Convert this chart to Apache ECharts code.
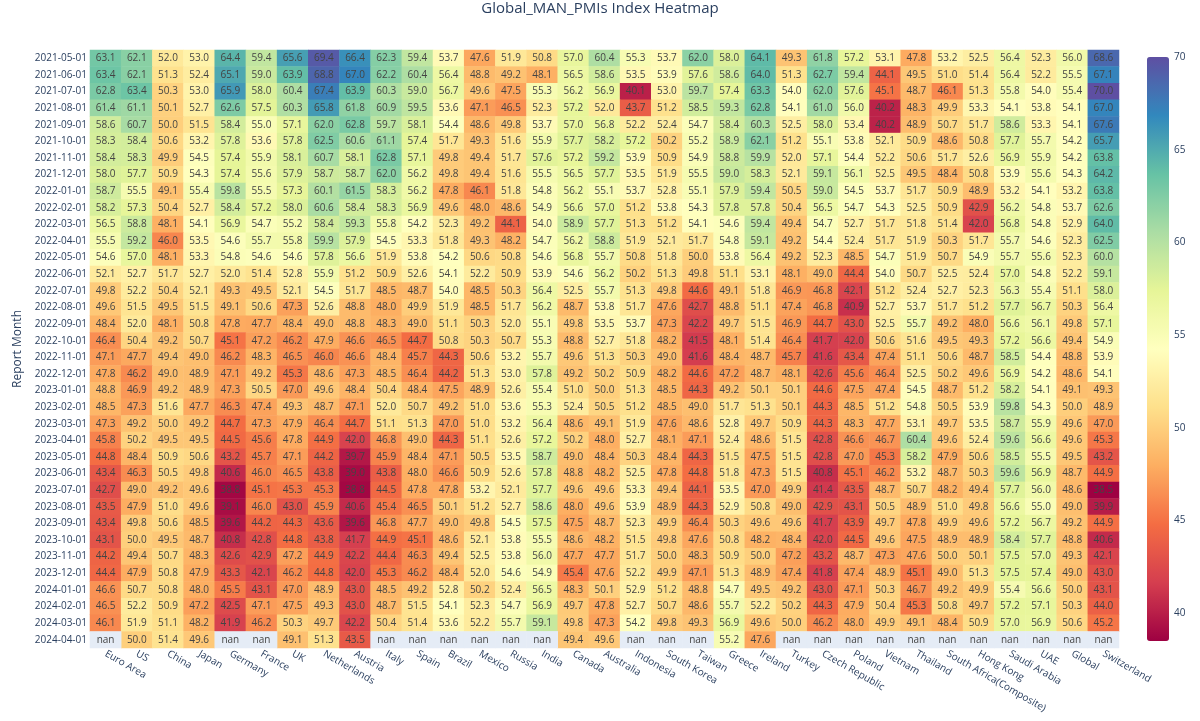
<!DOCTYPE html>
<html><head><meta charset="utf-8">
<script src="https://cdn.jsdelivr.net/npm/echarts@6/dist/echarts.min.js"></script>
<style>html,body{margin:0;padding:0;background:#fff}#chart{width:1200px;height:721px}</style>
</head><body><div id="chart"></div>
<script>
const countries = ['Euro Area','US','China','Japan','Germany','France','UK','Netherlands','Austria','Italy','Spain','Brazil','Mexico','Russia','India','Canada','Australia','Indonesia','South Korea','Taiwan','Greece','Ireland','Turkey','Czech Republic','Poland','Vietnam','Thailand','South Africa(Composite)','Hong Kong','Saudi Arabia','UAE','Global','Switzerland'];
const months = ['2021-05-01','2021-06-01','2021-07-01','2021-08-01','2021-09-01','2021-10-01','2021-11-01','2021-12-01','2022-01-01','2022-02-01','2022-03-01','2022-04-01','2022-05-01','2022-06-01','2022-07-01','2022-08-01','2022-09-01','2022-10-01','2022-11-01','2022-12-01','2023-01-01','2023-02-01','2023-03-01','2023-04-01','2023-05-01','2023-06-01','2023-07-01','2023-08-01','2023-09-01','2023-10-01','2023-11-01','2023-12-01','2024-01-01','2024-02-01','2024-03-01','2024-04-01'];

const r2021_05 = [63.1,62.1,52.0,53.0,64.4,59.4,65.6,69.4,66.4,62.3,59.4,53.7,47.6,51.9,50.8,57.0,60.4,55.3,53.7,62.0,58.0,64.1,49.3,61.8,57.2,53.1,47.8,53.2,52.5,56.4,52.3,56.0,68.6];
const r2021_06 = [63.4,62.1,51.3,52.4,65.1,59.0,63.9,68.8,67.0,62.2,60.4,56.4,48.8,49.2,48.1,56.5,58.6,53.5,53.9,57.6,58.6,64.0,51.3,62.7,59.4,44.1,49.5,51.0,51.4,56.4,52.2,55.5,67.1];
const r2021_07 = [62.8,63.4,50.3,53.0,65.9,58.0,60.4,67.4,63.9,60.3,59.0,56.7,49.6,47.5,55.3,56.2,56.9,40.1,53.0,59.7,57.4,63.3,54.0,62.0,57.6,45.1,48.7,46.1,51.3,55.8,54.0,55.4,70.0];
const r2021_08 = [61.4,61.1,50.1,52.7,62.6,57.5,60.3,65.8,61.8,60.9,59.5,53.6,47.1,46.5,52.3,57.2,52.0,43.7,51.2,58.5,59.3,62.8,54.1,61.0,56.0,40.2,48.3,49.9,53.3,54.1,53.8,54.1,67.0];
const r2021_09 = [58.6,60.7,50.0,51.5,58.4,55.0,57.1,62.0,62.8,59.7,58.1,54.4,48.6,49.8,53.7,57.0,56.8,52.2,52.4,54.7,58.4,60.3,52.5,58.0,53.4,40.2,48.9,50.7,51.7,58.6,53.3,54.1,67.6];
const r2021_10 = [58.3,58.4,50.6,53.2,57.8,53.6,57.8,62.5,60.6,61.1,57.4,51.7,49.3,51.6,55.9,57.7,58.2,57.2,50.2,55.2,58.9,62.1,51.2,55.1,53.8,52.1,50.9,48.6,50.8,57.7,55.7,54.2,65.7];
const r2021_11 = [58.4,58.3,49.9,54.5,57.4,55.9,58.1,60.7,58.1,62.8,57.1,49.8,49.4,51.7,57.6,57.2,59.2,53.9,50.9,54.9,58.8,59.9,52.0,57.1,54.4,52.2,50.6,51.7,52.6,56.9,55.9,54.2,63.8];
const r2021_12 = [58.0,57.7,50.9,54.3,57.4,55.6,57.9,58.7,58.7,62.0,56.2,49.8,49.4,51.6,55.5,56.5,57.7,53.5,51.9,55.5,59.0,58.3,52.1,59.1,56.1,52.5,49.5,48.4,50.8,53.9,55.6,54.3,64.2];
const r2022_01 = [58.7,55.5,49.1,55.4,59.8,55.5,57.3,60.1,61.5,58.3,56.2,47.8,46.1,51.8,54.8,56.2,55.1,53.7,52.8,55.1,57.9,59.4,50.5,59.0,54.5,53.7,51.7,50.9,48.9,53.2,54.1,53.2,63.8];
const r2022_02 = [58.2,57.3,50.4,52.7,58.4,57.2,58.0,60.6,58.4,58.3,56.9,49.6,48.0,48.6,54.9,56.6,57.0,51.2,53.8,54.3,57.8,57.8,50.4,56.5,54.7,54.3,52.5,50.9,42.9,56.2,54.8,53.7,62.6];
const r2022_03 = [56.5,58.8,48.1,54.1,56.9,54.7,55.2,58.4,59.3,55.8,54.2,52.3,49.2,44.1,54.0,58.9,57.7,51.3,51.2,54.1,54.6,59.4,49.4,54.7,52.7,51.7,51.8,51.4,42.0,56.8,54.8,52.9,64.0];
const r2022_04 = [55.5,59.2,46.0,53.5,54.6,55.7,55.8,59.9,57.9,54.5,53.3,51.8,49.3,48.2,54.7,56.2,58.8,51.9,52.1,51.7,54.8,59.1,49.2,54.4,52.4,51.7,51.9,50.3,51.7,55.7,54.6,52.3,62.5];
const r2022_05 = [54.6,57.0,48.1,53.3,54.8,54.6,54.6,57.8,56.6,51.9,53.8,54.2,50.6,50.8,54.6,56.8,55.7,50.8,51.8,50.0,53.8,56.4,49.2,52.3,48.5,54.7,51.9,50.7,54.9,55.7,55.6,52.3,60.0];
const r2022_06 = [52.1,52.7,51.7,52.7,52.0,51.4,52.8,55.9,51.2,50.9,52.6,54.1,52.2,50.9,53.9,54.6,56.2,50.2,51.3,49.8,51.1,53.1,48.1,49.0,44.4,54.0,50.7,52.5,52.4,57.0,54.8,52.2,59.1];
const r2022_07 = [49.8,52.2,50.4,52.1,49.3,49.5,52.1,54.5,51.7,48.5,48.7,54.0,48.5,50.3,56.4,52.5,55.7,51.3,49.8,44.6,49.1,51.8,46.9,46.8,42.1,51.2,52.4,52.7,52.3,56.3,55.4,51.1,58.0];
const r2022_08 = [49.6,51.5,49.5,51.5,49.1,50.6,47.3,52.6,48.8,48.0,49.9,51.9,48.5,51.7,56.2,48.7,53.8,51.7,47.6,42.7,48.8,51.1,47.4,46.8,40.9,52.7,53.7,51.7,51.2,57.7,56.7,50.3,56.4];
const r2022_09 = [48.4,52.0,48.1,50.8,47.8,47.7,48.4,49.0,48.8,48.3,49.0,51.1,50.3,52.0,55.1,49.8,53.5,53.7,47.3,42.2,49.7,51.5,46.9,44.7,43.0,52.5,55.7,49.2,48.0,56.6,56.1,49.8,57.1];
const r2022_10 = [46.4,50.4,49.2,50.7,45.1,47.2,46.2,47.9,46.6,46.5,44.7,50.8,50.3,50.7,55.3,48.8,52.7,51.8,48.2,41.5,48.1,51.4,46.4,41.7,42.0,50.6,51.6,49.5,49.3,57.2,56.6,49.4,54.9];
const r2022_11 = [47.1,47.7,49.4,49.0,46.2,48.3,46.5,46.0,46.6,48.4,45.7,44.3,50.6,53.2,55.7,49.6,51.3,50.3,49.0,41.6,48.4,48.7,45.7,41.6,43.4,47.4,51.1,50.6,48.7,58.5,54.4,48.8,53.9];
const r2022_12 = [47.8,46.2,49.0,48.9,47.1,49.2,45.3,48.6,47.3,48.5,46.4,44.2,51.3,53.0,57.8,49.2,50.2,50.9,48.2,44.6,47.2,48.7,48.1,42.6,45.6,46.4,52.5,50.2,49.6,56.9,54.2,48.6,54.1];
const r2023_01 = [48.8,46.9,49.2,48.9,47.3,50.5,47.0,49.6,48.4,50.4,48.4,47.5,48.9,52.6,55.4,51.0,50.0,51.3,48.5,44.3,49.2,50.1,50.1,44.6,47.5,47.4,54.5,48.7,51.2,58.2,54.1,49.1,49.3];
const r2023_02 = [48.5,47.3,51.6,47.7,46.3,47.4,49.3,48.7,47.1,52.0,50.7,49.2,51.0,53.6,55.3,52.4,50.5,51.2,48.5,49.0,51.7,51.3,50.1,44.3,48.5,51.2,54.8,50.5,53.9,59.8,54.3,50.0,48.9];
const r2023_03 = [47.3,49.2,50.0,49.2,44.7,47.3,47.9,46.4,44.7,51.1,51.3,47.0,51.0,53.2,56.4,48.6,49.1,51.9,47.6,48.6,52.8,49.7,50.9,44.3,48.3,47.7,53.1,49.7,53.5,58.7,55.9,49.6,47.0];
const r2023_04 = [45.8,50.2,49.5,49.5,44.5,45.6,47.8,44.9,42.0,46.8,49.0,44.3,51.1,52.6,57.2,50.2,48.0,52.7,48.1,47.1,52.4,48.6,51.5,42.8,46.6,46.7,60.4,49.6,52.4,59.6,56.6,49.6,45.3];
const r2023_05 = [44.8,48.4,50.9,50.6,43.2,45.7,47.1,44.2,39.7,45.9,48.4,47.1,50.5,53.5,58.7,49.0,48.4,50.3,48.4,44.3,51.5,47.5,51.5,42.8,47.0,45.3,58.2,47.9,50.6,58.5,55.5,49.5,43.2];
const r2023_06 = [43.4,46.3,50.5,49.8,40.6,46.0,46.5,43.8,39.0,43.8,48.0,46.6,50.9,52.6,57.8,48.8,48.2,52.5,47.8,44.8,51.8,47.3,51.5,40.8,45.1,46.2,53.2,48.7,50.3,59.6,56.9,48.7,44.9];
const r2023_07 = [42.7,49.0,49.2,49.6,38.8,45.1,45.3,45.3,38.8,44.5,47.8,47.8,53.2,52.1,57.7,49.6,49.6,53.3,49.4,44.1,53.5,47.0,49.9,41.4,43.5,48.7,50.7,48.2,49.4,57.7,56.0,48.6,38.5];
const r2023_08 = [43.5,47.9,51.0,49.6,39.1,46.0,43.0,45.9,40.6,45.4,46.5,50.1,51.2,52.7,58.6,48.0,49.6,53.9,48.9,44.3,52.9,50.8,49.0,42.9,43.1,50.5,48.9,51.0,49.8,56.6,55.0,49.0,39.9];
const r2023_09 = [43.4,49.8,50.6,48.5,39.6,44.2,44.3,43.6,39.6,46.8,47.7,49.0,49.8,54.5,57.5,47.5,48.7,52.3,49.9,46.4,50.3,49.6,49.6,41.7,43.9,49.7,47.8,49.9,49.6,57.2,56.7,49.2,44.9];
const r2023_10 = [43.1,50.0,49.5,48.7,40.8,42.8,44.8,43.8,41.7,44.9,45.1,48.6,52.1,53.8,55.5,48.6,48.2,51.5,49.8,47.6,50.8,48.2,48.4,42.0,44.5,49.6,47.5,48.9,48.9,58.4,57.7,48.8,40.6];
const r2023_11 = [44.2,49.4,50.7,48.3,42.6,42.9,47.2,44.9,42.2,44.4,46.3,49.4,52.5,53.8,56.0,47.7,47.7,51.7,50.0,48.3,50.9,50.0,47.2,43.2,48.7,47.3,47.6,50.0,50.1,57.5,57.0,49.3,42.1];
const r2023_12 = [44.4,47.9,50.8,47.9,43.3,42.1,46.2,44.8,42.0,45.3,46.2,48.4,52.0,54.6,54.9,45.4,47.6,52.2,49.9,47.1,51.3,48.9,47.4,41.8,47.4,48.9,45.1,49.0,51.3,57.5,57.4,49.0,43.0];
const r2024_01 = [46.6,50.7,50.8,48.0,45.5,43.1,47.0,48.9,43.0,48.5,49.2,52.8,50.2,52.4,56.5,48.3,50.1,52.9,51.2,48.8,54.7,49.5,49.2,43.0,47.1,50.3,46.7,49.2,49.9,55.4,56.6,50.0,43.1];
const r2024_02 = [46.5,52.2,50.9,47.2,42.5,47.1,47.5,49.3,43.0,48.7,51.5,54.1,52.3,54.7,56.9,49.7,47.8,52.7,50.7,48.6,55.7,52.2,50.2,44.3,47.9,50.4,45.3,50.8,49.7,57.2,57.1,50.3,44.0];
const r2024_03 = [46.1,51.9,51.1,48.2,41.9,46.2,50.3,49.7,42.2,50.4,51.4,53.6,52.2,55.7,59.1,49.8,47.3,54.2,49.8,49.3,56.9,49.6,50.0,46.2,48.0,49.9,49.1,48.4,50.9,57.0,56.9,50.6,45.2];
const r2024_04 = [null,50.0,51.4,49.6,null,null,49.1,51.3,43.5,null,null,null,null,null,null,49.4,49.6,null,null,null,55.2,47.6,null,null,null,null,null,null,null,null,null,null,null];

const colorbarTicks = [40,45,50,55,60,65,70];

const rows = [r2021_05,r2021_06,r2021_07,r2021_08,r2021_09,r2021_10,r2021_11,r2021_12,r2022_01,r2022_02,r2022_03,r2022_04,r2022_05,r2022_06,r2022_07,r2022_08,r2022_09,r2022_10,r2022_11,r2022_12,r2023_01,r2023_02,r2023_03,r2023_04,r2023_05,r2023_06,r2023_07,r2023_08,r2023_09,r2023_10,r2023_11,r2023_12,r2024_01,r2024_02,r2024_03,r2024_04];

const valid = [], nans = [];
let zMin = Infinity, zMax = -Infinity;
rows.forEach((row, i) => row.forEach((v, j) => {
  if (v === null) { nans.push([j, i, 0]); }
  else { valid.push([j, i, v]); zMin = Math.min(zMin, v); zMax = Math.max(zMax, v); }
}));

const spectral = ['rgb(158,1,66)','rgb(213,62,79)','rgb(244,109,67)','rgb(253,174,97)','rgb(254,224,139)','rgb(255,255,191)','rgb(230,245,152)','rgb(171,221,164)','rgb(102,194,165)','rgb(50,136,189)','rgb(94,79,162)'];
const FONT = '"Open Sans", verdana, arial, sans-serif';
const TXT = '#2a3f5f';

const chart = echarts.init(document.getElementById('chart'), null, {renderer: 'canvas'});
chart.setOption({
  animation: false,
  textStyle: {fontFamily: FONT},
  title: {text: 'Global_MAN_PMIs Index Heatmap', left: 'center', top: 1, padding: 0,
    textStyle: {fontFamily: FONT, fontSize: 15, fontWeight: 'normal', color: TXT}},
  grid: [
    {left: 90, right: 81, top: 50, bottom: 73},
    {left: 1147, top: 57, width: 22, height: 584}
  ],
  xAxis: [
    {type: 'category', gridIndex: 0, data: countries, position: 'bottom',
      axisLine: {show: false}, axisTick: {show: false}, splitLine: {show: false}, splitArea: {show: false},
      axisLabel: {rotate: -30, interval: 0, fontSize: 10, color: TXT, margin: 5, fontFamily: FONT}},
    {type: 'value', gridIndex: 1, show: false, min: 0, max: 1}
  ],
  yAxis: [
    {type: 'category', gridIndex: 0, data: months, inverse: true,
      name: 'Report Month', nameLocation: 'middle', nameGap: 65, nameRotate: 90,
      nameTextStyle: {fontSize: 12, color: TXT, fontFamily: FONT},
      axisLine: {show: false}, axisTick: {show: false}, splitLine: {show: false}, splitArea: {show: false},
      axisLabel: {interval: 0, fontSize: 10, color: TXT, margin: 3, fontFamily: FONT}},
    {type: 'value', gridIndex: 1, min: zMin, max: zMax, position: 'right',
      axisLine: {show: false}, axisTick: {show: false}, splitLine: {show: false},
      axisLabel: {customValues: colorbarTicks, fontSize: 10, color: TXT, margin: 5, fontFamily: FONT}}
  ],
  visualMap: {
    type: 'continuous', min: zMin, max: zMax, seriesIndex: 0, dimension: 2,
    calculable: false, hoverLink: false, orient: 'vertical',
    left: 1147, top: 57, itemWidth: 22, itemHeight: 584, padding: 0,
    inRange: {color: spectral}, textStyle: {color: 'rgba(0,0,0,0)'}
  },
  series: [
    {type: 'heatmap', xAxisIndex: 0, yAxisIndex: 0, data: valid, progressive: 0,
      label: {show: true, fontSize: 10, color: '#444', fontFamily: FONT,
        formatter: p => p.value[2].toFixed(1)},
      emphasis: {disabled: true}},
    {type: 'heatmap', xAxisIndex: 0, yAxisIndex: 0, data: nans, progressive: 0,
      itemStyle: {color: '#e5ecf6'},
      label: {show: true, fontSize: 10, color: '#444', fontFamily: FONT, formatter: 'nan'},
      emphasis: {disabled: true}}
  ]
});
</script></body></html>
